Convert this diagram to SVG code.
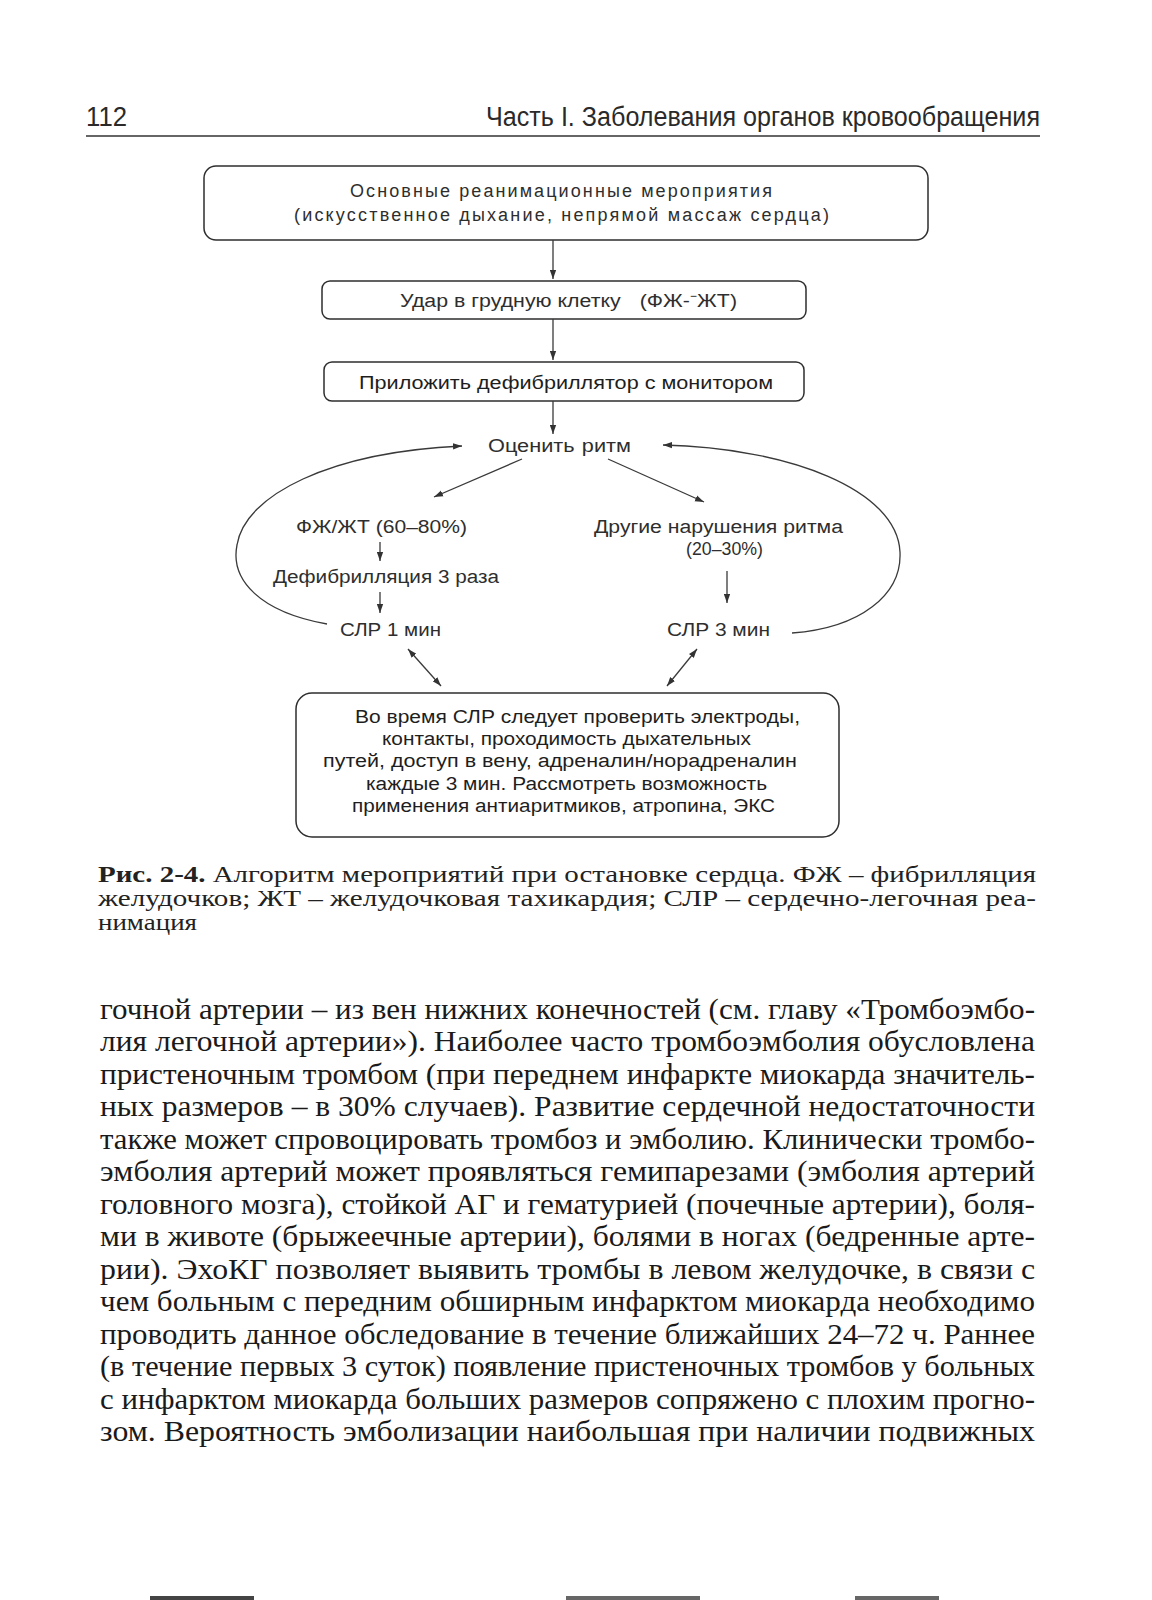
<svg xmlns="http://www.w3.org/2000/svg" width="1152" height="1600" viewBox="0 0 1152 1600">
<defs>
<style>
.hd{font-family:"Liberation Sans Narrow","Liberation Sans",Arial,sans-serif;font-size:27px;fill:#2a2a2a}
.dg{font-family:"Liberation Sans",Arial,sans-serif;font-size:18px;fill:#2e2e2e}
.dw{font-family:"Liberation Sans",Arial,sans-serif;font-size:18px;fill:#2e2e2e}
.db{font-family:"Liberation Sans",Arial,sans-serif;font-size:18px;fill:#1e1e1e}
.box{fill:none;stroke:#2e2e2e;stroke-width:1.5}
.cn{fill:none;stroke:#3a3a3a;stroke-width:1.3}
.cap{font-family:"Liberation Serif","Times New Roman",serif;font-size:22.5px;fill:#222}
.bd{font-family:"Liberation Serif","Times New Roman",serif;font-size:29px;fill:#1a1a1a}
</style>
<marker id="ah" viewBox="0 0 10 7" refX="10" refY="3.5" markerWidth="9" markerHeight="7" markerUnits="userSpaceOnUse" orient="auto-start-reverse">
<path d="M0,0 L10,3.5 L0,7 z" fill="#333"/>
</marker>
</defs>
<rect x="0" y="0" width="1152" height="1600" fill="#ffffff"/>

<g id="header">
<text class="hd" x="86" y="126" textLength="41" lengthAdjust="spacingAndGlyphs">112</text>
<text class="hd" x="486" y="126" textLength="554" lengthAdjust="spacingAndGlyphs">Часть I. Заболевания органов кровообращения</text>
<line x1="86" y1="136" x2="1040" y2="136" stroke="#333" stroke-width="1.6"/>
</g>

<g id="n1">
<rect class="box" x="204" y="166" width="724" height="74" rx="12"/>
<text class="dw" x="350" y="197" textLength="422" lengthAdjust="spacing">Основные реанимационные мероприятия</text>
<text class="dw" x="294" y="221" textLength="535" lengthAdjust="spacing">(искусственное дыхание, непрямой массаж сердца)</text>
</g>

<g id="n2">
<rect class="box" x="322" y="281" width="484" height="38" rx="8"/>
<text class="dg" x="400" y="307" textLength="337" lengthAdjust="spacingAndGlyphs">Удар в грудную клетку<tspan dx="16">(ФЖ-⁻ЖТ)</tspan></text>
</g>

<g id="n3">
<rect class="box" x="324" y="362" width="480" height="39" rx="8"/>
<text class="db" x="359" y="389" textLength="414" lengthAdjust="spacingAndGlyphs">Приложить дефибриллятор с монитором</text>
</g>

<g id="n4">
<text class="dg" x="488" y="452" textLength="143" lengthAdjust="spacingAndGlyphs">Оценить<tspan dx="6">ритм</tspan></text>
</g>

<g id="n5">
<text class="dg" x="296" y="533" textLength="171" lengthAdjust="spacingAndGlyphs">ФЖ/ЖТ (60–80%)</text>
</g>
<g id="n6">
<text class="dg" x="273" y="583" textLength="226" lengthAdjust="spacingAndGlyphs">Дефибрилляция 3 раза</text>
</g>
<g id="n7">
<text class="dg" x="340" y="636" textLength="101" lengthAdjust="spacingAndGlyphs">СЛР 1 мин</text>
</g>
<g id="n8">
<text class="dg" x="594" y="533" textLength="249" lengthAdjust="spacingAndGlyphs">Другие нарушения ритма</text>
<text class="dg" x="686" y="555" textLength="77" lengthAdjust="spacingAndGlyphs">(20–30%)</text>
</g>
<g id="n9">
<text class="dg" x="667" y="636" textLength="103" lengthAdjust="spacingAndGlyphs">СЛР 3 мин</text>
</g>

<g id="n10">
<rect class="box" x="296" y="693" width="543" height="144" rx="16"/>
<text class="db" x="355" y="723" textLength="445" lengthAdjust="spacingAndGlyphs">Во время СЛР следует проверить электроды,</text>
<text class="db" x="382" y="745" textLength="369" lengthAdjust="spacingAndGlyphs">контакты, проходимость дыхательных</text>
<text class="db" x="323" y="767" textLength="474" lengthAdjust="spacingAndGlyphs">путей, доступ в вену, адреналин/норадреналин</text>
<text class="db" x="366" y="790" textLength="401" lengthAdjust="spacingAndGlyphs">каждые 3 мин. Рассмотреть возможность</text>
<text class="db" x="352" y="812" textLength="423" lengthAdjust="spacingAndGlyphs">применения антиаритмиков, атропина, ЭКС</text>
</g>

<g id="connectors">
<line class="cn" x1="553" y1="240" x2="553" y2="279" marker-end="url(#ah)"/>
<line class="cn" x1="553" y1="319" x2="553" y2="360" marker-end="url(#ah)"/>
<line class="cn" x1="553" y1="401" x2="553" y2="434" marker-end="url(#ah)"/>
<line class="cn" x1="522" y1="459" x2="434" y2="497" marker-end="url(#ah)"/>
<line class="cn" x1="608" y1="459" x2="704" y2="502" marker-end="url(#ah)"/>
<line class="cn" x1="380" y1="542" x2="380" y2="561" marker-end="url(#ah)"/>
<line class="cn" x1="380" y1="592" x2="380" y2="613" marker-end="url(#ah)"/>
<line class="cn" x1="727" y1="571" x2="727" y2="603" marker-end="url(#ah)"/>
<line class="cn" x1="408" y1="649" x2="441" y2="686" marker-start="url(#ah)" marker-end="url(#ah)"/>
<line class="cn" x1="697" y1="649" x2="667" y2="686" marker-start="url(#ah)" marker-end="url(#ah)"/>
<path class="cn" d="M 327 624 C 260 612, 230 580, 237 545 C 245 495, 330 452, 462 446" marker-end="url(#ah)"/>
<path class="cn" d="M 792 633 C 860 628, 902 595, 900 552 C 897 490, 790 448, 663 445" marker-end="url(#ah)"/>
</g>

<g id="caption">
<text class="cap" x="98" y="882" textLength="938" lengthAdjust="spacingAndGlyphs"><tspan font-weight="bold">Рис. 2-4.</tspan> Алгоритм мероприятий при остановке сердца. ФЖ – фибрилляция</text>
<text class="cap" x="98" y="906" textLength="938" lengthAdjust="spacingAndGlyphs">желудочков; ЖТ – желудочковая тахикардия; СЛР – сердечно-легочная реа-</text>
<text class="cap" x="98" y="930" textLength="99" lengthAdjust="spacingAndGlyphs">нимация</text>
</g>

<g id="body">
<text class="bd" x="100" y="1019" textLength="935" lengthAdjust="spacingAndGlyphs">гочной артерии – из вен нижних конечностей (см. главу «Тромбоэмбо-</text>
<text class="bd" x="100" y="1051" textLength="935" lengthAdjust="spacingAndGlyphs">лия легочной артерии»). Наиболее часто тромбоэмболия обусловлена</text>
<text class="bd" x="100" y="1084" textLength="935" lengthAdjust="spacingAndGlyphs">пристеночным тромбом (при переднем инфаркте миокарда значитель-</text>
<text class="bd" x="100" y="1116" textLength="935" lengthAdjust="spacingAndGlyphs">ных размеров – в 30% случаев). Развитие сердечной недостаточности</text>
<text class="bd" x="100" y="1149" textLength="935" lengthAdjust="spacingAndGlyphs">также может спровоцировать тромбоз и эмболию. Клинически тромбо-</text>
<text class="bd" x="100" y="1181" textLength="935" lengthAdjust="spacingAndGlyphs">эмболия артерий может проявляться гемипарезами (эмболия артерий</text>
<text class="bd" x="100" y="1214" textLength="935" lengthAdjust="spacingAndGlyphs">головного мозга), стойкой АГ и гематурией (почечные артерии), боля-</text>
<text class="bd" x="100" y="1246" textLength="935" lengthAdjust="spacingAndGlyphs">ми в животе (брыжеечные артерии), болями в ногах (бедренные арте-</text>
<text class="bd" x="100" y="1279" textLength="935" lengthAdjust="spacingAndGlyphs">рии). ЭхоКГ позволяет выявить тромбы в левом желудочке, в связи с</text>
<text class="bd" x="100" y="1311" textLength="935" lengthAdjust="spacingAndGlyphs">чем больным с передним обширным инфарктом миокарда необходимо</text>
<text class="bd" x="100" y="1344" textLength="935" lengthAdjust="spacingAndGlyphs">проводить данное обследование в течение ближайших 24–72 ч. Раннее</text>
<text class="bd" x="100" y="1376" textLength="935" lengthAdjust="spacingAndGlyphs">(в течение первых 3 суток) появление пристеночных тромбов у больных</text>
<text class="bd" x="100" y="1409" textLength="935" lengthAdjust="spacingAndGlyphs">с инфарктом миокарда больших размеров сопряжено с плохим прогно-</text>
<text class="bd" x="100" y="1441" textLength="935" lengthAdjust="spacingAndGlyphs">зом. Вероятность эмболизации наибольшая при наличии подвижных</text>
</g>

<g id="page-edge">
<rect x="150" y="1596" width="104" height="4" fill="#444"/>
<rect x="566" y="1596" width="134" height="4" fill="#666"/>
<rect x="855" y="1596" width="84" height="4" fill="#666"/>
</g>
</svg>
